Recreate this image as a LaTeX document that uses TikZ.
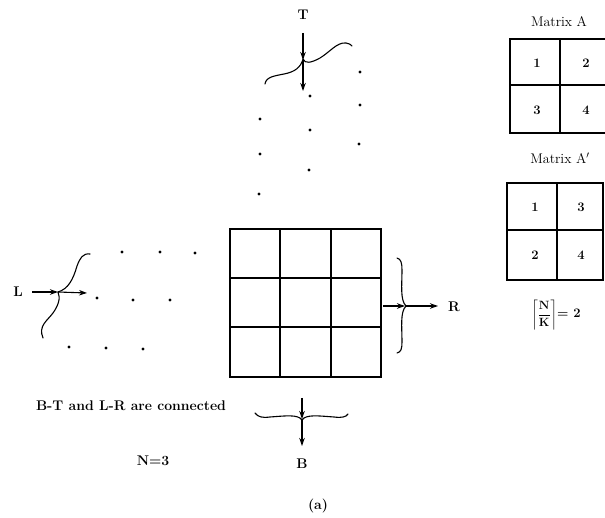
\documentclass[tikz,border=0pt]{standalone}
\usetikzlibrary{arrows.meta}
\begin{document}
\begin{tikzpicture}[x=1pt,y=-1pt,
  lbl/.style={font=\fontsize{14}{16}\selectfont\bfseries, inner sep=0pt},
  ttl/.style={font=\fontsize{14}{16}\selectfont, inner sep=0pt},
  num/.style={font=\fontsize{13}{15}\selectfont\bfseries, inner sep=0pt},
  gridline/.style={line width=1.3pt},
  brace/.style={line width=1.1pt, line cap=round},
  arr/.style={line width=1.1pt, -{Stealth[length=8pt,width=5.5pt]}},
  dotfill/.style={fill=black}]
\useasboundingbox (0,0) rectangle (605,518);

% ---- central 3x3 grid
\draw[gridline] (230,229) rectangle (381,377);
\foreach \x in {280,331} \draw[gridline] (\x,229) -- (\x,377);
\foreach \y in {278,327} \draw[gridline] (230,\y) -- (381,\y);

% ---- top dots
\foreach \p in {(260,119),(260,154),(259,194),(310,96),(310,130),(309,170),(360,72),(360,105),(359,144)}
  \fill[dotfill] \p circle (1.7);
% ---- left dots
\foreach \p in {(122,252),(160,252),(195,253),(97,298),(133,300),(170,300),(69,347),(106,348),(143,349)}
  \fill[dotfill] \p circle (1.7);

% ---- T
\node[lbl] (T) at (303,15) {T};
\coordinate (Ts) at (303,33);
\coordinate (Tc) at (303,60);
\coordinate (Te) at (303,91);
\draw[arr] (Ts) -- (Tc);
\draw[arr] (Tc) -- (Te);
\draw[brace] (265,84) .. controls (266,77) and (274,76) .. (284,74)
  .. controls (295,72) and (301,67) .. (303,59)
  .. controls (305,64) and (311,63) .. (320,58)
  .. controls (330,52) and (337,42) .. (346,43)
  .. controls (349,43) and (351,45) .. (352,46);

% ---- L
\node[lbl] (L) at (18,292) {L};
\coordinate (Ls) at (32,292);
\coordinate (Lc) at (58,292);
\coordinate (Le) at (87,293);
\draw[arr] (Ls) -- (Lc);
\draw[arr] (Lc) -- (Le);
\draw[brace] (90,254) .. controls (83,253) and (80,258) .. (77,266)
  .. controls (73,280) and (68,289) .. (58,292)
  .. controls (61,298) and (58,306) .. (53,313)
  .. controls (47,321) and (38,326) .. (43,338);

% ---- R
\node[lbl] (R) at (454,307) {R};
\coordinate (Rs) at (383,306);
\coordinate (Rc) at (405,306);
\coordinate (Re) at (438,306);
\draw[arr] (Rs) -- (Rc);
\draw[arr] (Rc) -- (Re);
\draw[brace] (397,258) .. controls (401,259) and (402,263) .. (402,270)
  .. controls (402,285) and (400,300) .. (406,306)
  .. controls (400,312) and (402,327) .. (402,342)
  .. controls (402,349) and (401,352) .. (397,353);

% ---- B
\node[lbl] (B) at (302,464) {B};
\coordinate (Bs) at (302,398);
\coordinate (Bc) at (302,419);
\coordinate (Be) at (302,446);
\draw[arr] (Bs) -- (Bc);
\draw[arr] (Bc) -- (Be);
\draw[brace] (255,413) .. controls (258,417) and (262,418) .. (270,417)
  .. controls (285,416) and (298,414) .. (302,420)
  .. controls (306,414) and (319,416) .. (334,417)
  .. controls (342,418) and (346,417) .. (348,414);

% ---- texts
\node[lbl] (bt) at (131,406) {B-T and L-R are connected};
\node[lbl] (n3) at (153,461) {N=3};
\node[lbl] (cap) at (318,506) {(a)};

% ---- Matrix A
\node[ttl] (ma) at (559,22) {Matrix A};
\draw[gridline] (605,39) -- (510,39) -- (510,133) -- (605,133);
\draw[gridline] (510,85) -- (605,85);
\draw[gridline] (560,39) -- (560,133);
\node[num] (a1) at (537,63) {1};
\node[num] (a2) at (586,63) {2};
\node[num] (a3) at (537,110) {3};
\node[num] (a4) at (586,110) {4};

% ---- Matrix A'
\node[ttl] (mb) at (560,158) {Matrix A$'$};
\draw[gridline] (507,183) rectangle (603,280);
\draw[gridline] (507,230) -- (603,230);
\draw[gridline] (557,183) -- (557,280);
\node[num] (b1) at (535,207) {1};
\node[num] (b3) at (581,207) {3};
\node[num] (b2) at (535,255) {2};
\node[num] (b4) at (581,255) {4};

% ---- ceiling
\node[font=\fontsize{13}{15}\selectfont, inner sep=0pt] (ceil) at (556,315)
  {$\left\lceil\displaystyle\frac{\mathbf{N}}{\mathbf{K}}\right\rceil$\textbf{= 2}};
\end{tikzpicture}
\end{document}
